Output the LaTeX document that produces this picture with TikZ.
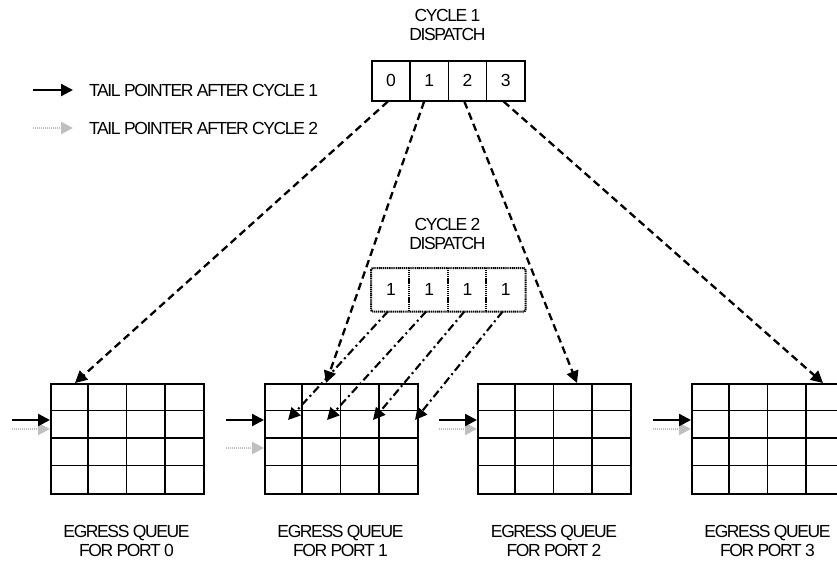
\documentclass[tikz,border=0pt]{standalone}
\usepackage{fontspec}
\setmainfont{Liberation Sans}[LetterSpace=-8]
\usetikzlibrary{arrows.meta,calc}
\begin{document}
\begin{tikzpicture}[x=1pt,y=-1pt,
  font=\fontsize{17.5}{18.5}\selectfont,
  tip/.style={-{Triangle[length=12pt,width=12pt]}},
  cellbox/.style={draw,line width=1.5pt,minimum width=38.25pt,minimum height=40pt,
    inner sep=0pt,anchor=north west},
  dotbox/.style={cellbox,minimum height=42pt,draw=none},
  queue/.style={draw,line width=1.6pt,minimum width=153pt,minimum height=110pt,
    inner sep=0pt,anchor=north west},
  gridline/.style={line width=1.6pt},
  dispatch/.style={tip,line width=2.3pt,dash pattern=on 7.5pt off 4.5pt},
  redispatch/.style={tip,line width=2.1pt,dash pattern=on 8pt off 3.5pt on 2pt off 3.5pt},
  tailA/.style={tip,line width=2.4pt,black},
  tailB/.style={tip,line width=2.2pt,draw=black!25,fill=black!25,dash pattern=on 1.2pt off 0.8pt},
  label/.style={align=center,inner sep=0pt}
]
\useasboundingbox (0,0) rectangle (837,562);
\clip (0,0) rectangle (837,562);

% legend
\coordinate (la0) at (33,90);  \coordinate (la1) at (73,90);
\coordinate (lb0) at (33,128); \coordinate (lb1) at (73,128);
\draw[tailA] (la0) -- (la1);
\draw[tailB] (lb0) -- (lb1);
\node[anchor=west,inner sep=0pt] (lt1) at (89,90) {TAIL POINTER AFTER CYCLE 1};
\node[anchor=west,inner sep=0pt] (lt2) at (89,128) {TAIL POINTER AFTER CYCLE 2};

% cycle 1 dispatch
\node[label] (t1) at (447.5,25) {CYCLE 1\\DISPATCH};
\foreach \i/\v in {0/0,1/1,2/2,3/3}
  \node[cellbox] (c1\i) at ({371+\i*38.25},60) {\v};

% cycle 2 dispatch (dotted outline)
\node[label] (t2) at (447.5,234) {CYCLE 2\\DISPATCH};
\foreach \i in {0,1,2,3}
  \node[dotbox] (c2\i) at ({371+\i*38.25},268) {1};
\draw[line width=2pt,dash pattern=on 1.2pt off 0.7pt,rounded corners=2pt]
  (c20.north west) rectangle (c23.south east);
\foreach \i in {1,2,3}
  \draw[line width=2pt,dash pattern=on 1.2pt off 0.7pt] (c2\i.north west) -- (c2\i.south west);

% egress queues
\foreach \q/\x in {0/50,1/264,2/477,3/691}{
  \node[queue] (q\q) at (\x,383) {};
  \foreach \k in {1,2,3}{
    \draw[gridline] ($(q\q.north west)+(\k*38.25,0)$) -- ($(q\q.south west)+(\k*38.25,0)$);
    \draw[gridline] ($(q\q.north west)+(0,\k*27.5)$) -- ($(q\q.north east)+(0,\k*27.5)$);
  }
}

% tail pointers
\foreach \q/\g in {0/46,1/65,2/46,3/46}{
  \coordinate (pa\q) at ($(q\q.north west)+(-38,37)$);
  \coordinate (pb\q) at ($(q\q.north west)+(-38,\g)$);
  \coordinate (ea\q) at ($(q\q.north west)+(0,37)$);
  \coordinate (eb\q) at ($(q\q.north west)+(0,\g)$);
  \draw[tailB] (pb\q) -- (eb\q);
  \draw[tailA] (pa\q) -- (ea\q);
}

% cycle 1 entries to the queues
\coordinate (d0) at ($(q0.north west)+(25,0)$);
\coordinate (d1) at ($(q1.north west)+(62,0)$);
\coordinate (d2) at ($(q2.north west)+(100,0)$);
\coordinate (d3) at ($(q3.north west)+(132,0)$);
\draw[dispatch] ($(c10.south)+(-3,0)$) -- (d0);
\draw[dispatch] ($(c11.south)+(-5,0)$) -- (d1);
\draw[dispatch] ($(c12.south)+(-3,0)$) -- (d2);
\draw[dispatch] ($(c13.south)+(-2,0)$) -- (d3);

% cycle 2 entries, all to port 1
\foreach \i/\dx in {0/24,1/63,2/109,3/151}{
  \coordinate (r\i) at ($(q1.north west)+(\dx,37)$);
  \draw[redispatch] ($(c2\i.south)+(-3,0)$) -- (r\i);
}

% queue captions
\foreach \q/\x in {0/126.5,1/340.5,2/554,3/767.5}
  \node[label] (l\q) at (\x,541) {EGRESS QUEUE\\FOR PORT \q};
\end{tikzpicture}
\end{document}
